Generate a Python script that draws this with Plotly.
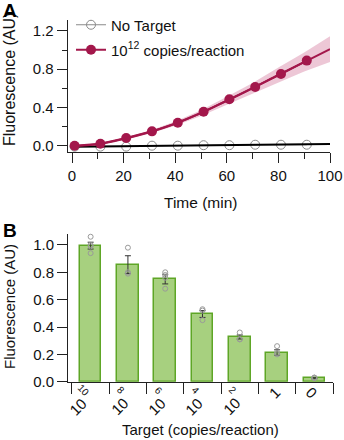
import plotly.graph_objects as go

# ---------------- Panel A data ----------------
time_pts = [1, 11, 21, 31, 41, 51, 61, 71, 81, 91]
target_pts = [0.0, 0.02, 0.08, 0.15, 0.24, 0.355, 0.485, 0.614, 0.75, 0.89]
notarget_pts = [-0.01, -0.01, -0.01, 0.0, 0.0, 0.005, 0.005, 0.01, 0.01, 0.01]

fit_time = [0, 10, 20, 30, 40, 50, 60, 70, 80, 90, 100]
target_fit = [-0.005, 0.015, 0.07, 0.14, 0.23, 0.34, 0.47, 0.60, 0.74, 0.875, 1.01]
target_band = [0.005, 0.006, 0.01, 0.015, 0.022, 0.03, 0.042, 0.057, 0.078, 0.10, 0.135]
notarget_fit_time = [0, 100]
notarget_fit = [-0.012, 0.018]

xA_ticks = [0, 20, 40, 60, 80, 100]
xA_minor = [10, 30, 50, 70, 90]
yA_ticks = [0.0, 0.4, 0.8, 1.2]
yA_minor = [0.2, 0.6, 1.0]

# ---------------- Panel B data ----------------
tick_base = ["10", "10", "10", "10", "10", "1", "0"]
tick_exp = ["10", "8", "6", "4", "2", "", ""]
bar_means = [0.995, 0.856, 0.75, 0.495, 0.327, 0.213, 0.025]
bar_err = [0.025, 0.065, 0.035, 0.025, 0.015, 0.02, 0.004]
replicates = [
    [1.06, 1.0, 0.99, 0.94],
    [0.98, 0.80, 0.79],
    [0.80, 0.78, 0.76, 0.68],
    [0.53, 0.52, 0.45],
    [0.36, 0.31, 0.31],
    [0.26, 0.21, 0.20],
    [0.03, 0.03, 0.025],
]
yB_ticks = [0.0, 0.2, 0.4, 0.6, 0.8, 1.0]

W, H = 344, 440
FONT = "Liberation Sans, Arial, sans-serif"
CRIMSON = "#a3174b"
BAND = "rgba(196,70,120,0.30)"
GREY = "#8a8a8a"
GREEN_FILL = "#a7d07f"
GREEN_LINE = "#5ea626"


def py(px):
    return 1 - px / H


def pxx(px):
    return px / W


fig = go.Figure()

# band
fig.add_trace(go.Scatter(
    x=fit_time + fit_time[::-1],
    y=[m + b for m, b in zip(target_fit, target_band)] + [m - b for m, b in zip(target_fit[::-1], target_band[::-1])],
    fill="toself", fillcolor=BAND, line=dict(width=0), mode="lines",
    hoverinfo="skip", showlegend=False, xaxis="x", yaxis="y"))

# no target markers (legend)
fig.add_trace(go.Scatter(
    x=time_pts, y=notarget_pts, mode="lines+markers", name="No Target",
    line=dict(color=GREY, width=1),
    marker=dict(symbol="circle-open", size=9, color=GREY, line=dict(width=1)),
    cliponaxis=False, legend="legend", xaxis="x", yaxis="y"))
# no target fit
fig.add_trace(go.Scatter(
    x=notarget_fit_time, y=notarget_fit, mode="lines",
    line=dict(color="black", width=2), showlegend=False, xaxis="x", yaxis="y"))

# target fit
fig.add_trace(go.Scatter(
    x=fit_time, y=target_fit, mode="lines", line=dict(color=CRIMSON, width=2, shape="spline"),
    showlegend=False, xaxis="x", yaxis="y"))
# target markers
fig.add_trace(go.Scatter(
    x=time_pts, y=target_pts, mode="lines+markers", name="10<sup>12</sup> copies/reaction",
    line=dict(color=CRIMSON, width=2),
    marker=dict(symbol="circle", size=10, color=CRIMSON),
    cliponaxis=False, legend="legend2", xaxis="x", yaxis="y"))

# ---------------- Panel B ----------------
centers = [i + 0.5 for i in range(len(bar_means))]
fig.add_trace(go.Bar(
    x=centers, y=bar_means, width=0.58,
    marker=dict(color=GREEN_FILL, line=dict(color=GREEN_LINE, width=1.5)),
    error_y=dict(type="data", array=bar_err, color="#333333", thickness=1, width=3),
    showlegend=False, xaxis="x2", yaxis="y2"))

rx, ry = [], []
for c, vals in zip(centers, replicates):
    for v in vals:
        rx.append(c)
        ry.append(v)
fig.add_trace(go.Scatter(
    x=rx, y=ry, mode="markers",
    marker=dict(symbol="circle-open", size=5, color="#9a9a9a", line=dict(width=1)),
    cliponaxis=False, showlegend=False, xaxis="x2", yaxis="y2"))

axis_common = dict(showline=True, linecolor="#222", linewidth=1, ticks="outside",
                   tickcolor="#222", tickwidth=1, showgrid=False, zeroline=False,
                   automargin=False,
                   tickfont=dict(size=15, color="#111", family=FONT))


def ann(**kw):
    d = dict(showarrow=False, xanchor="center", yanchor="middle")
    d.update(kw)
    return d


annotations = []
# B tick labels
for i, (b, e) in enumerate(zip(tick_base, tick_exp)):
    if e:
        annotations.append(ann(x=i, y=py(406), xref="x2", yref="paper", text=b,
                               textangle=-45, xshift=6 if len(e) > 1 else 10,
                               font=dict(size=15, family=FONT, color="#111")))
        annotations.append(ann(x=i, y=py(390), xref="x2", yref="paper", text=e,
                               textangle=45, xshift=12,
                               font=dict(size=10, family=FONT, color="#111")))
    else:
        annotations.append(ann(x=i, y=py(392), xref="x2", yref="paper", text=b,
                               textangle=-45 if b == "1" else 45, xshift=16,
                               font=dict(size=15, family=FONT, color="#111")))

# titles and panel letters
annotations += [
    ann(x=pxx(9), y=py(80), xref="paper", yref="paper", text="Fluorescence (AU)",
        textangle=-90, font=dict(size=16, family=FONT, color="#111")),
    ann(x=pxx(9), y=py(307), xref="paper", yref="paper", text="Fluorescence (AU)",
        textangle=-90, font=dict(size=15, family=FONT, color="#111")),
    ann(x=pxx(200), y=py(202), xref="paper", yref="paper", text="Time (min)",
        font=dict(size=15.5, family=FONT, color="#111")),
    ann(x=pxx(200), y=py(429), xref="paper", yref="paper", text="Target (copies/reaction)",
        font=dict(size=15, family=FONT, color="#111")),
    ann(x=pxx(9.5), y=py(10.5), xref="paper", yref="paper", text="<b>A</b>",
        font=dict(size=19, family=FONT, color="black")),
    ann(x=pxx(9.5), y=py(230), xref="paper", yref="paper", text="<b>B</b>",
        font=dict(size=19, family=FONT, color="black")),
]

legend_common = dict(xanchor="left", yanchor="middle", bgcolor="rgba(0,0,0,0)",
                     font=dict(size=15, family=FONT, color="#111"), borderwidth=0)

fig.update_layout(
    width=W, height=H, margin=dict(l=0, r=0, t=0, b=0, autoexpand=False),
    autosize=False,
    paper_bgcolor="white", plot_bgcolor="white",
    font=dict(family=FONT),
    bargap=0,
    xaxis=dict(domain=[pxx(67.7), pxx(330)], range=[-1.67, 100], anchor="y",
               tickvals=xA_ticks, ticklen=10,
               minor=dict(tickvals=xA_minor, ticklen=6, ticks="outside", tickcolor="#222"),
               **axis_common),
    yaxis=dict(domain=[py(151.7), py(20)], range=[-0.063, 1.315], anchor="x",
               tickvals=yA_ticks, ticktext=[f"{v:.1f}" for v in yA_ticks], ticklen=10,
               minor=dict(tickvals=yA_minor, ticklen=5, ticks="outside", tickcolor="#222"),
               **axis_common),
    xaxis2=dict(domain=[pxx(68), pxx(333)], range=[-0.107, 7], anchor="y2",
                tickvals=list(range(8)), showticklabels=False, ticklen=11, **axis_common),
    yaxis2=dict(domain=[py(381.7), py(234)], range=[0, 1.08], anchor="x2",
                tickvals=yB_ticks, ticktext=[f"{v:.1f}" for v in yB_ticks], ticklen=10,
                **axis_common),
    legend=dict(x=pxx(71), y=py(25), **legend_common),
    legend2=dict(x=pxx(71), y=py(50), **legend_common),
    annotations=annotations,
)

fig.write_html("out.html")
